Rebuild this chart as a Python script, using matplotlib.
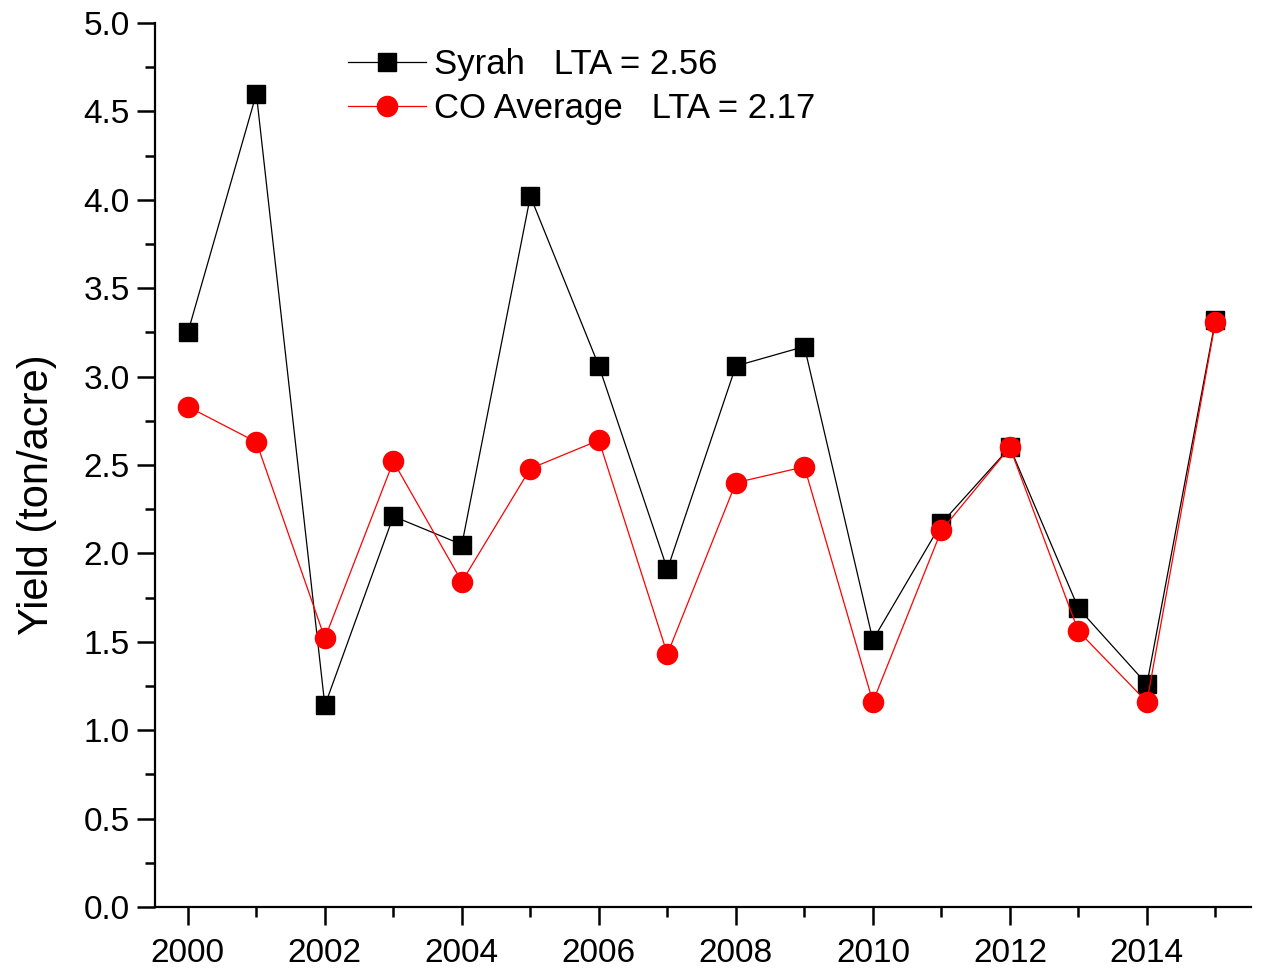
import numpy as np
import matplotlib.pyplot as plt
from matplotlib.ticker import MultipleLocator

plt.rcParams['font.family'] = ['Liberation Sans', 'DejaVu Sans']

# --- Data ---
years = np.arange(2000, 2016)
syrah = [3.25, 4.60, 1.14, 2.21, 2.05, 4.02, 3.06, 1.91, 3.06, 3.17,
         1.51, 2.17, 2.60, 1.69, 1.26, 3.32]
co_avg = [2.83, 2.63, 1.52, 2.52, 1.84, 2.48, 2.64, 1.43, 2.40, 2.49,
          1.16, 2.13, 2.60, 1.56, 1.16, 3.31]

fig = plt.figure(figsize=(12.62, 9.71), dpi=100)
ax = fig.add_axes([0.1228, 0.0659, 0.8685, 0.9104])

ax.plot(years, syrah, 'k-', linewidth=0.9, marker='s', markersize=13,
        label='Syrah   LTA = 2.56')
ax.plot(years, co_avg, 'r-', linewidth=0.9, marker='o', markersize=14.5,
        label='CO Average   LTA = 2.17')

ax.set_xlim(1999.52, 2015.52)
ax.set_ylim(0, 5.0)
ax.xaxis.set_major_locator(MultipleLocator(2))
ax.xaxis.set_minor_locator(MultipleLocator(1))
ax.yaxis.set_major_locator(MultipleLocator(0.5))
ax.yaxis.set_minor_locator(MultipleLocator(0.25))
ax.yaxis.set_major_formatter(plt.FormatStrFormatter('%.1f'))

for side in ['top', 'right']:
    ax.spines[side].set_visible(False)
for side in ['left', 'bottom']:
    ax.spines[side].set_linewidth(1.6)

ax.tick_params(which='major', direction='out', length=13, width=1.8, labelsize=24)
ax.tick_params(axis='x', which='major', pad=9)
ax.tick_params(axis='y', which='major', pad=5)
ax.tick_params(which='minor', direction='out', length=7, width=1.8)

ax.set_ylabel('Yield (ton/acre)', fontsize=30)
ax.yaxis.set_label_coords(-0.089, 0.466)

ax.legend(loc='upper left', bbox_to_anchor=(0.157, 0.995), frameon=False,
          fontsize=25, handlelength=2.25, handletextpad=0.23, labelspacing=0.32,
          borderaxespad=0.2)

fig.savefig('out.png', dpi=100)
